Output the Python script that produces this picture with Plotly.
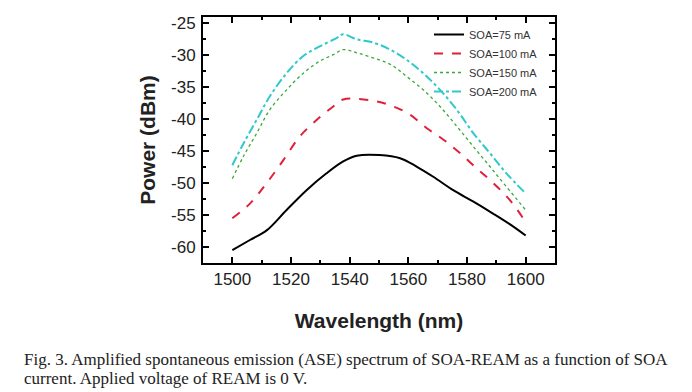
import plotly.graph_objects as go

# Data
wl_75 = [1500, 1506, 1511.7, 1518.5, 1525.3, 1532, 1537.8, 1542.4, 1550.3, 1557.2, 1562.8, 1568.5, 1575.3, 1582.2, 1589, 1595.8, 1600]
p_75 = [-60.5, -58.9, -57.4, -54.2, -51.1, -48.5, -46.6, -45.7, -45.6, -46.1, -47.4, -49.0, -51.1, -52.9, -54.8, -56.8, -58.2]

wl_100 = [1500, 1506, 1511.7, 1517.4, 1523, 1528.8, 1534.4, 1537.8, 1542.4, 1549, 1554.9, 1560.6, 1566.3, 1572, 1577.6, 1583.3, 1589, 1594.7, 1600]
p_100 = [-55.5, -53.2, -50.0, -46.4, -42.7, -40.1, -38.0, -36.9, -36.8, -37.2, -38.0, -39.3, -41.4, -43.2, -45.3, -47.7, -50.0, -52.7, -56.1]

wl_150 = [1500, 1503.8, 1508.3, 1512.8, 1518.5, 1524.2, 1529.8, 1534.4, 1537.8, 1542.4, 1548, 1553.8, 1559.4, 1565.1, 1570.8, 1576.5, 1582.2, 1587.8, 1593.5, 1600]
p_150 = [-49.3, -45.8, -42.2, -38.5, -35.4, -32.8, -30.9, -29.9, -29.1, -29.6, -30.4, -31.4, -33.3, -35.4, -38.0, -41.1, -44.3, -47.4, -50.6, -54.2]

wl_200 = [1500, 1503.8, 1508.3, 1512.8, 1518.5, 1524.2, 1529.8, 1535.5, 1537.8, 1542.4, 1548, 1553.8, 1559.4, 1565.1, 1570.8, 1576.5, 1582.2, 1587.8, 1593.5, 1600]
p_200 = [-47.2, -43.8, -40.1, -36.4, -32.8, -30.1, -28.6, -27.3, -26.7, -27.5, -28.0, -29.1, -30.7, -32.8, -35.4, -38.5, -42.2, -45.3, -48.5, -51.6]

series_names = ["SOA=75 mA", "SOA=100 mA", "SOA=150 mA", "SOA=200 mA"]
x_ticks = [1500, 1520, 1540, 1560, 1580, 1600]
y_ticks = [-25, -30, -35, -40, -45, -50, -55, -60]
y_ticktext = ["-25", "-30", "-35", "-40", "-45", "-50", "-55", "-60"]

caption_lines = ["Fig. 3. Amplified spontaneous emission (ASE) spectrum of SOA-REAM as a function of SOA",
                 "current. Applied voltage of REAM is 0 V."]

# The page body has an 8px default margin, so the figure is offset by 8px.
OFF = 8
W, H = 692 - OFF, 392 - OFF
L, R, T, B = 203 - OFF, 137, 17 - OFF, 392 - 263 - OFF + OFF  # frame: x 203..555, y 17..263 on page
B = H - (263 - OFF)
PW, PH = W - L - R, H - T - B

fig = go.Figure()
styles = [
    dict(color="#000000", width=2, dash="solid"),
    dict(color="#e0203a", width=2, dash="dash"),
    dict(color="#3aa83a", width=1.3, dash="dot"),
    dict(color="#2fc9c9", width=2, dash="dashdot"),
]
for (xs, ys), name, st in zip([(wl_75, p_75), (wl_100, p_100), (wl_150, p_150), (wl_200, p_200)], series_names, styles):
    fig.add_trace(go.Scatter(x=xs, y=ys, mode="lines", name=name,
                             line=dict(shape="spline", smoothing=1.0, **st)))

axis_common = dict(
    showline=True, linecolor="black", linewidth=2, mirror="ticks",
    ticks="inside", ticklen=6, tickwidth=1.5, tickcolor="black",
    showgrid=False, zeroline=False, automargin=False,
    tickfont=dict(family="Liberation Sans, Arial", size=17, color="#222"),
)
fig.update_xaxes(range=[1490, 1610], tickvals=x_ticks,
                 minor=dict(dtick=10, tick0=1500, ticks="inside", ticklen=3, tickcolor="black"),
                 title=dict(text="<b>Wavelength (nm)</b>", font=dict(family="Liberation Sans, Arial", size=21, color="#222"), standoff=25),
                 **axis_common)
fig.update_yaxes(range=[-62.5, -24], tickvals=y_ticks, ticktext=y_ticktext, ticklabelstandoff=2,
                 minor=dict(dtick=2.5, tick0=-25, ticks="inside", ticklen=3, tickcolor="black"),
                 title=dict(text="<b>Power (dBm)</b>", font=dict(family="Liberation Sans, Arial", size=21, color="#222"), standoff=10),
                 **axis_common)

ann = []
for i, line in enumerate(caption_lines):
    ann.append(dict(text=line, xref="paper", yref="paper",
                    x=(22 - OFF - L) / PW, y=(H - B - (359 - OFF + 19 * i)) / PH,
                    xanchor="left", yanchor="middle", align="left", showarrow=False,
                    font=dict(family="Liberation Serif, Times New Roman", size=17, color="#222")))

fig.update_layout(
    width=W, height=H,
    margin=dict(l=L, r=R, t=T, b=B),
    paper_bgcolor="white", plot_bgcolor="white",
    showlegend=True,
    legend=dict(x=(429 - OFF - L) / PW, y=(H - B - (20 - OFF)) / PH, xanchor="left", yanchor="top", bgcolor="rgba(0,0,0,0)",
                font=dict(family="Liberation Sans, Arial", size=11, color="#333"),
                tracegroupgap=0, itemwidth=30),
    annotations=ann,
)

fig.write_html("out.html")
